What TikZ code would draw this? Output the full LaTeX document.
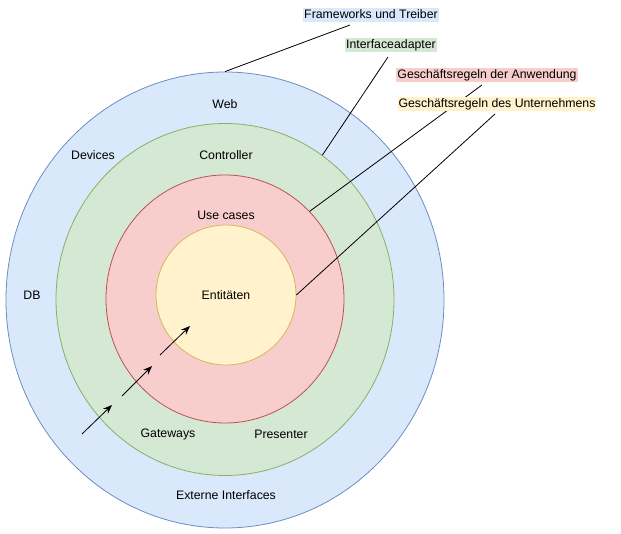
\documentclass[tikz,border=0pt]{standalone}
\usepackage{fontspec}
\setmainfont{Liberation Sans}
\usetikzlibrary{arrows.meta,shapes.geometric}
\definecolor{bfill}{HTML}{DAE8FC}\definecolor{bdraw}{HTML}{6C8EBF}
\definecolor{gfill}{HTML}{D5E8D4}\definecolor{gdraw}{HTML}{82B366}
\definecolor{rfill}{HTML}{F8CECC}\definecolor{rdraw}{HTML}{B85450}
\definecolor{yfill}{HTML}{FFF2CC}\definecolor{ydraw}{HTML}{D6B656}
\begin{document}
\begin{tikzpicture}[x=1pt,y=-1pt,
  txt/.style={font=\fontsize{12.3}{14}\selectfont, inner sep=0pt},
  lab/.style={txt, inner xsep=1pt, inner ysep=1.5pt, text height=9pt, text depth=2.5pt},
  ring/.style={ellipse, inner sep=0pt, line width=0.8pt},
  conn/.style={line width=0.8pt},
  arr/.style={line width=0.8pt, -{Stealth[length=9pt,width=7pt]}}]
\useasboundingbox (0,0) rectangle (621,534);
\node[ring, fill=bfill, draw=bdraw, minimum width=438pt, minimum height=456pt] (outer) at (225,300) {};
\node[ring, fill=gfill, draw=gdraw, minimum width=338pt, minimum height=352pt] (green) at (225,299.5) {};
\node[ring, fill=rfill, draw=rdraw, minimum width=238pt, minimum height=248pt] (red) at (225,299) {};
\node[ring, fill=yfill, draw=ydraw, minimum width=140pt, minimum height=140pt] (inner) at (226,295) {};
% ring texts
\node[txt] (web) at (225,104) {Web};
\node[txt] (dev) at (93,155) {Devices};
\node[txt] (ctrl) at (226,155) {Controller};
\node[txt] (uc) at (226,215) {Use cases};
\node[txt] (ent) at (226,295) {Entitäten};
\node[txt] (db) at (32,295) {DB};
\node[txt] (gw) at (168,434) {Gateways};
\node[txt] (pres) at (281,434) {Presenter};
\node[txt] (ext) at (226,495) {Externe Interfaces};
% connector ends
\coordinate (c1) at (350,25);
\coordinate (c2) at (388,57);
\coordinate (c3) at (482,85);
\coordinate (c4) at (495,114);
\draw[conn] (c1) -- (outer.north);
\draw[conn] (c2) -- (green.56.5);
\draw[conn] (c3) -- (red.46);
\draw[conn] (c4) -- (inner.east);
% labels
\node[lab, fill=bfill] (l1) at (371,15) {Frameworks und Treiber};
\node[lab, fill=gfill] (l2) at (391,45) {Interfaceadapter};
\node[lab, fill=rfill] (l3) at (487,75) {Geschäftsregeln der Anwendung};
\node[lab, fill=yfill] (l4) at (497,104) {Geschäftsregeln des Unternehmens};
% arrows
\coordinate (a1s) at (82,434); \coordinate (a1e) at (112,405);
\coordinate (a2s) at (122,396); \coordinate (a2e) at (152,366);
\coordinate (a3s) at (160,355); \coordinate (a3e) at (190,326);
\draw[arr] (a1s) -- (a1e);
\draw[arr] (a2s) -- (a2e);
\draw[arr] (a3s) -- (a3e);
\end{tikzpicture}
\end{document}
